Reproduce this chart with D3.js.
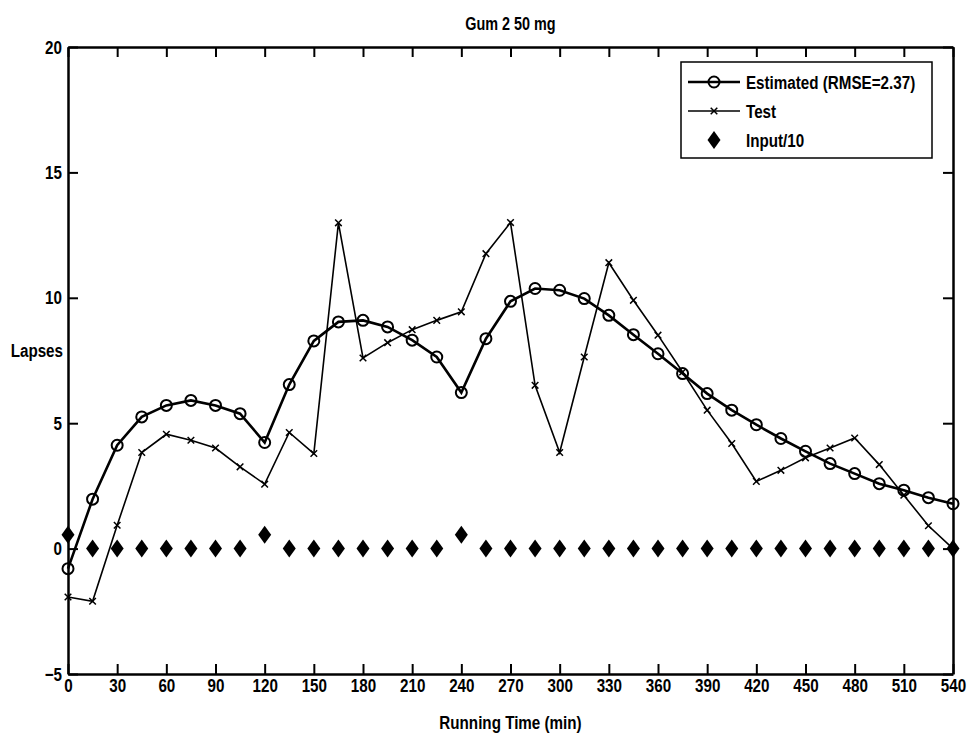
<!DOCTYPE html>
<html>
<head>
<meta charset="utf-8">
<script src="https://cdn.jsdelivr.net/npm/d3@7"></script>
<style>
  body { margin: 0; background: #fff; }
  text { font-family: "Liberation Sans", Arial, sans-serif; font-weight: bold; fill: #000; }
</style>
</head>
<body>
<svg id="chart"></svg>
<script>
// Running time (min), one sample every 15 min
const times = d3.range(0, 541, 15);

// Estimated lapses (circles)
const estimated = [
  -0.8, 1.97, 4.12, 5.25, 5.71, 5.91, 5.71, 5.38, 4.23, 6.54, 8.28, 9.04, 9.1,
  8.84, 8.31, 7.64, 6.22, 8.37, 9.86, 10.37, 10.3, 9.97, 9.3, 8.53, 7.77,
  6.98, 6.18, 5.52, 4.94, 4.39, 3.88, 3.39, 2.99, 2.59, 2.33, 2.03, 1.79
];

// Test lapses (x markers)
const test = [
  -1.93, -2.1, 0.93, 3.83, 4.56, 4.32, 4.01, 3.26, 2.57, 4.63, 3.79, 12.99, 7.6,
  8.21, 8.73, 9.1, 9.44, 11.76, 13.0, 6.51, 3.83, 7.64, 11.4, 9.9, 8.51,
  7.04, 5.52, 4.19, 2.68, 3.12, 3.62, 4.01, 4.41, 3.35, 2.13, 0.91, 0.0
];

// Input/10 (diamonds)
const input = [
  0.55, 0, 0, 0, 0, 0, 0, 0, 0.55, 0, 0, 0, 0,
  0, 0, 0, 0.55, 0, 0, 0, 0, 0, 0, 0, 0,
  0, 0, 0, 0, 0, 0, 0, 0, 0, 0, 0, 0
];

const xTicks = d3.range(0, 541, 30);
const yTicks = [-5, 0, 5, 10, 15, 20];
const legendLabels = ["Estimated (RMSE=2.37)", "Test", "Input/10"];

// Chart dimensions
const margin = { top: 47, right: 16, bottom: 61, left: 68 };
const W = 969, H = 735;
const width = W - margin.left - margin.right;
const height = H - margin.top - margin.bottom;

// narrow bold look: squeeze Liberation Sans horizontally
const NARROW = 0.8;
function squeeze(sel) {
  sel.each(function () {
    const t = d3.select(this);
    const x0 = +(t.attr("x") || 0);
    t.attr("x", x0 / NARROW).attr("transform", `scale(${NARROW},1)`);
  });
}

const svg = d3.select("#chart").attr("width", W).attr("height", H);
const g = svg.append("g").attr("transform", `translate(${margin.left}, ${margin.top})`);

const x = d3.scaleLinear().domain([0, 540]).range([0, width]);
const y = d3.scaleLinear().domain([-5, 20]).range([height, 0]);

// Axes with inward ticks on all four sides
const tickLen = 10;
g.append("g")
  .attr("transform", `translate(0, ${height})`)
  .call(d3.axisBottom(x).tickValues(xTicks).tickSizeInner(-tickLen).tickSizeOuter(0).tickPadding(5));
g.append("g")
  .call(d3.axisTop(x).tickValues(xTicks).tickSizeInner(-tickLen).tickSizeOuter(0).tickFormat(""));
g.append("g")
  .call(d3.axisLeft(y).tickValues(yTicks).tickSizeInner(-tickLen).tickSizeOuter(0).tickPadding(6));
g.append("g")
  .attr("transform", `translate(${width}, 0)`)
  .call(d3.axisRight(y).tickValues(yTicks).tickSizeInner(-tickLen).tickSizeOuter(0).tickFormat(""));

g.selectAll(".domain").attr("stroke", "#000").attr("stroke-width", 2.5);
g.selectAll(".tick line").attr("stroke", "#000").attr("stroke-width", 2);
g.selectAll(".tick text")
  .attr("fill", "#000")
  .attr("font-family", null)
  .attr("font-size", "19px")
  .call(squeeze);

// Titles
svg.append("text")
  .attr("x", margin.left + width / 2)
  .attr("y", 30)
  .attr("text-anchor", "middle")
  .attr("font-size", "18px")
  .text("Gum 2 50 mg")
  .call(squeeze);

svg.append("text")
  .attr("x", margin.left + width / 2)
  .attr("y", 729)
  .attr("text-anchor", "middle")
  .attr("font-size", "19px")
  .text("Running Time (min)")
  .call(squeeze);

svg.append("text")
  .attr("x", 63)
  .attr("y", 357)
  .attr("text-anchor", "end")
  .attr("font-size", "19px")
  .text("Lapses")
  .call(squeeze);

// Series data
const estData = times.map((t, i) => ({ t: t, v: estimated[i] }));
const testData = times.map((t, i) => ({ t: t, v: test[i] }));
const inputData = times.map((t, i) => ({ t: t, v: input[i] }));

const line = d3.line().x((d) => x(d.t)).y((d) => y(d.v));

// Test line with x markers
g.append("path")
  .datum(testData)
  .attr("d", line)
  .attr("fill", "none")
  .attr("stroke", "#000")
  .attr("stroke-width", 1.6);

const xMark = d3.symbol().type(d3.symbolX).size(30);
g.selectAll(".test-mark")
  .data(testData)
  .enter()
  .append("path")
  .attr("class", "test-mark")
  .attr("d", xMark)
  .attr("transform", (d) => `translate(${x(d.t)}, ${y(d.v)})`)
  .attr("fill", "none")
  .attr("stroke", "#000")
  .attr("stroke-width", 1.5);

// Estimated line with open circle markers
g.append("path")
  .datum(estData)
  .attr("d", line)
  .attr("fill", "none")
  .attr("stroke", "#000")
  .attr("stroke-width", 2.6);

g.selectAll(".est-mark")
  .data(estData)
  .enter()
  .append("circle")
  .attr("class", "est-mark")
  .attr("cx", (d) => x(d.t))
  .attr("cy", (d) => y(d.v))
  .attr("r", 5.5)
  .attr("fill", "none")
  .attr("stroke", "#000")
  .attr("stroke-width", 2);

// Input diamonds
const diamond = (cx, cy) => `M${cx},${cy - 9}L${cx + 6.5},${cy}L${cx},${cy + 9}L${cx - 6.5},${cy}Z`;
g.selectAll(".input-mark")
  .data(inputData)
  .enter()
  .append("path")
  .attr("class", "input-mark")
  .attr("d", (d) => diamond(x(d.t), y(d.v)))
  .attr("fill", "#000");

// Legend
const legend = svg.append("g").attr("transform", "translate(681, 62)");
legend.append("rect")
  .attr("width", 251)
  .attr("height", 96)
  .attr("fill", "#fff")
  .attr("stroke", "#000")
  .attr("stroke-width", 1.5);

const rowY = [20, 49, 78];
legend.append("line").attr("x1", 7).attr("x2", 59).attr("y1", rowY[0]).attr("y2", rowY[0])
  .attr("stroke", "#000").attr("stroke-width", 2.6);
legend.append("circle").attr("cx", 33).attr("cy", rowY[0]).attr("r", 5.5)
  .attr("fill", "none").attr("stroke", "#000").attr("stroke-width", 2);
legend.append("line").attr("x1", 7).attr("x2", 59).attr("y1", rowY[1]).attr("y2", rowY[1])
  .attr("stroke", "#000").attr("stroke-width", 1.6);
legend.append("path").attr("d", xMark).attr("transform", `translate(33, ${rowY[1]})`)
  .attr("fill", "none").attr("stroke", "#000").attr("stroke-width", 1.5);
legend.append("path").attr("d", diamond(33, rowY[2])).attr("fill", "#000");

legend.selectAll(".legend-label")
  .data(legendLabels)
  .enter()
  .append("text")
  .attr("class", "legend-label")
  .attr("x", 65)
  .attr("y", (d, i) => rowY[i])
  .attr("dy", "0.35em")
  .attr("font-size", "19px")
  .text((d) => d)
  .call(squeeze);
</script>
</body>
</html>
